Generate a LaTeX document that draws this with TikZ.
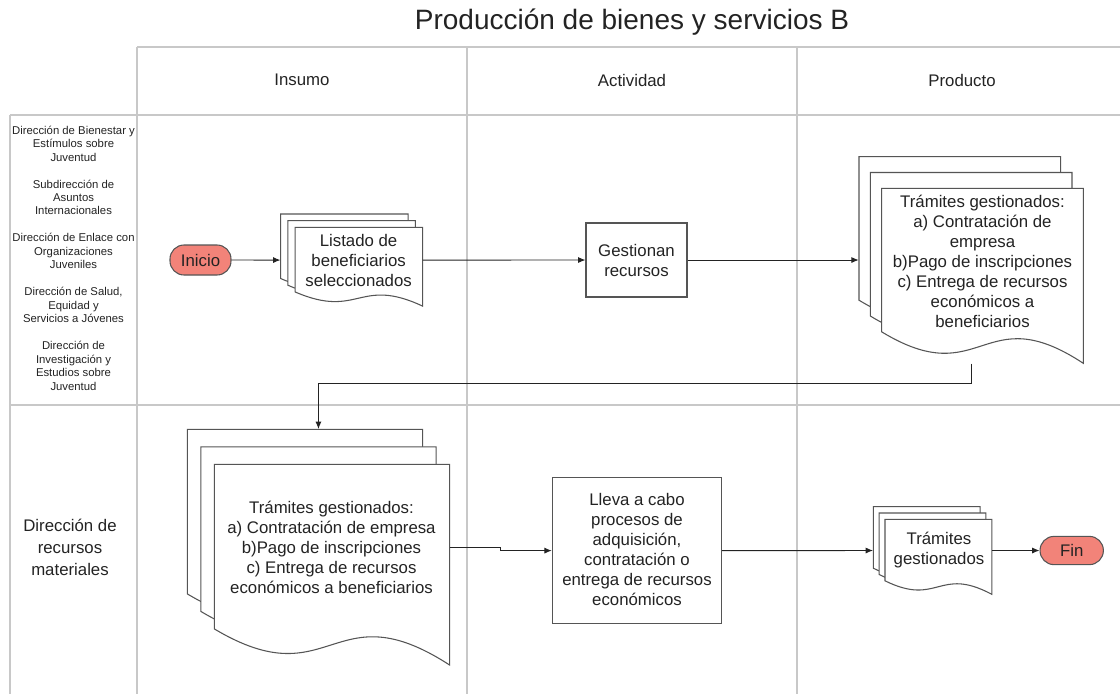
\documentclass[tikz,border=0pt]{standalone}
\usepackage{fontspec}
\setmainfont{Liberation Sans}
\usetikzlibrary{arrows.meta,fit}
\definecolor{salmon}{RGB}{242,131,121}
\definecolor{edgec}{RGB}{85,85,85}
\definecolor{gridc}{RGB}{200,200,200}
\definecolor{ink}{RGB}{35,35,35}
\tikzset{
  gridline/.style={draw=gridc,line width=1pt},
  sheet/.style={draw=edgec,fill=white,line width=0.8pt,line join=miter},
  txt/.style={align=center,text=ink,font=\fontsize{12.6}{15}\selectfont,inner sep=0pt},
  boxnode/.style={draw=edgec,fill=white,line width=0.8pt,inner sep=0pt},
  term/.style={draw=edgec,fill=salmon,line width=0.8pt,rounded corners=10.5pt,inner sep=0pt,text=ink,font=\fontsize{12.6}{15}\selectfont},
  arr/.style={draw=ink,line width=0.7pt,-{Latex[length=5.5pt,width=4.5pt]}},
}
\newcommand\docsheet[4]{%
  \filldraw[sheet] ({#1},{#2}) -- ({#1+#3},{#2}) -- ({#1+#3},{#2+#4})
    .. controls ({#1+0.5*#3},{#2+0.62*#4}) and ({#1+0.5*#3},{#2+1.17*#4}) ..
    ({#1},{#2+0.82*#4}) -- cycle;}
\newcommand\docstack[7]{%
  \docsheet{#2}{#3}{#4}{#5}%
  \docsheet{#2+#6}{#3+#7}{#4}{#5}%
  \docsheet{#2+2*#6}{#3+2*#7}{#4}{#5}%
  \node[fit={({#2},{#3}) ({#2+#4+2*#6},{#3+#5+2*#7})},inner sep=0pt] (#1) {};}
\begin{document}
\begin{tikzpicture}[x=0.75pt,y=-0.75pt]
\useasboundingbox (0,0) rectangle (1120,694);
% grid
\draw[gridline] (137,47) -- (1120,47);
\draw[gridline] (10,115) -- (1120,115);
\draw[gridline] (10,405) -- (1120,405);
\draw[gridline] (10,115) -- (10,694);
\draw[gridline] (137,47) -- (137,694);
\draw[gridline] (467,47) -- (467,694);
\draw[gridline] (797,47) -- (797,694);
% title and headers
\node[txt,font=\fontsize{21}{25}\selectfont] (title) at (632,22) {Producción de bienes y servicios B};
\node[txt] (h1) at (302,80) {Insumo};
\node[txt] (h2) at (632,80) {Actividad};
\node[txt] (h3) at (962,80) {Producto};
% lane labels
\node[txt,font=\fontsize{8.5}{10.1}\selectfont] (lane1) at (73.5,258) {Dirección de Bienestar y\\Estímulos sobre\\Juventud\\[10.1pt]Subdirección de\\Asuntos\\Internacionales\\[10.1pt]Dirección de Enlace con\\Organizaciones\\Juveniles\\[10.1pt]Dirección de Salud,\\Equidad y\\Servicios a Jóvenes\\[10.1pt]Dirección de\\Investigación y\\Estudios sobre\\Juventud};
\node[txt,font=\fontsize{12.6}{16.5}\selectfont] (lane2) at (70,547) {Dirección de\\recursos\\materiales};
% terminals and boxes
\node[term,minimum width=45.75pt,minimum height=22.5pt] (inicio) at (200.5,260) {Inicio};
\node[boxnode,minimum width=75.75pt,minimum height=55.5pt] (gest) at (636.5,260) {};
\node[txt] (gest-t) at (636.5,260) {Gestionan\\recursos};
\node[boxnode,minimum width=127pt,minimum height=110pt] (lleva) at (637,550.6) {};
\node[txt] (lleva-t) at (637,549) {Lleva a cabo\\procesos de\\adquisición,\\contratación o\\entrega de recursos\\económicos};
\node[term,minimum width=47.5pt,minimum height=21.2pt] (fin) at (1071.7,550.5) {Fin};
% document stacks
\docstack{listado}{280.7}{214}{127.5}{78.7}{7.2}{6.7}
\node[txt] (listado-t) at (358.6,260) {Listado de\\beneficiarios\\seleccionados};
\docstack{prod}{859}{156.7}{201.7}{175}{11.3}{15.8}
\node[txt] (prod-t) at (982.5,261.7) {Trámites gestionados:\\a) Contratación de\\empresa\\b)Pago de inscripciones\\c) Entrega de recursos\\económicos a\\beneficiarios};
\docstack{lower}{187.3}{429.3}{235.3}{200.7}{13.5}{17.5}
\node[txt] (lower-t) at (331.5,547) {Trámites gestionados:\\a) Contratación de empresa\\b)Pago de inscripciones\\c) Entrega de recursos\\económicos a beneficiarios};
\docstack{small}{873.3}{506.7}{106.8}{75}{5.85}{6.3}
\node[txt] (small-t) at (939,550) {Trámites\\gestionados};
% connectors
\draw[arr] (inicio.east) -- (listado.west);
\draw[arr] (listado.east) -- (gest.west);
\draw[arr] (gest.east) -- (prod.west);
\draw[arr] (prod.south) -- ++(0,20) -| (lower.north);
\draw[arr] (lower.east) -- ++(51,0) |- (lleva.west);
\draw[arr] (lleva.east) -- (small.west);
\draw[arr] (small.east) -- (fin.west);
\end{tikzpicture}
\end{document}
